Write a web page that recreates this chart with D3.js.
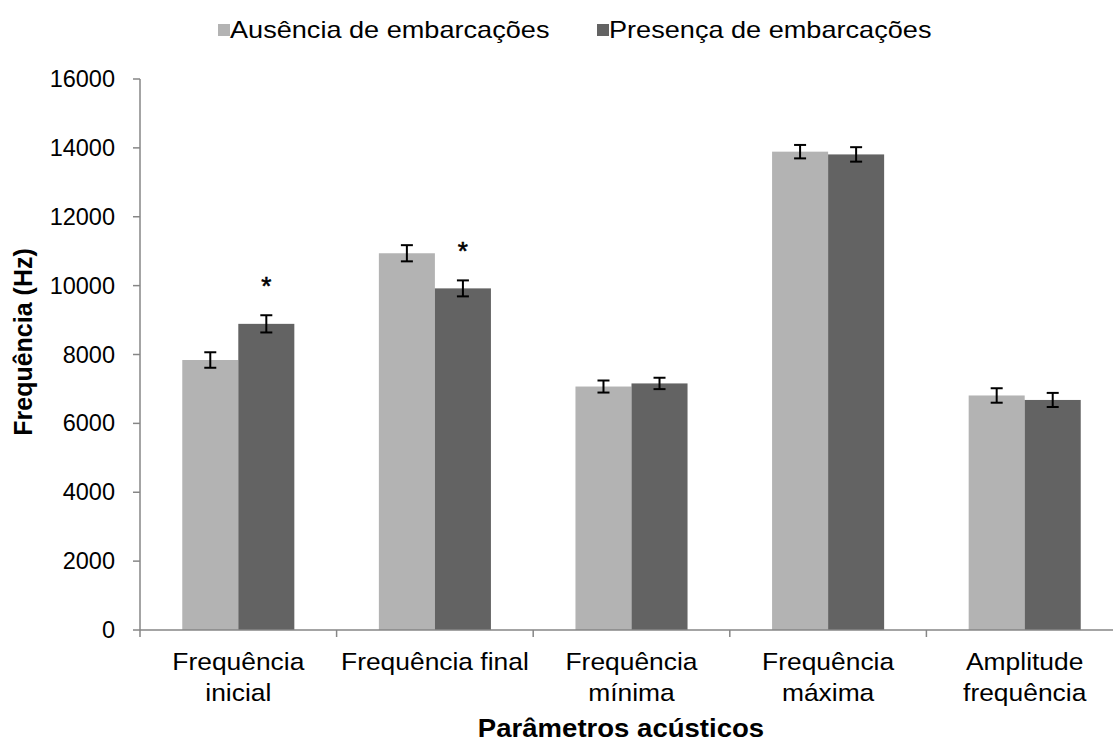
<!DOCTYPE html>
<html>
<head>
<meta charset="utf-8">
<script src="https://cdn.jsdelivr.net/npm/d3@7"></script>
<style>
  html, body { margin: 0; padding: 0; background: #fff; }
  svg { display: block; font-family: "Liberation Sans", Arial, sans-serif; }
</style>
</head>
<body>
<svg id="chart" width="1113" height="744"></svg>
<script>
// Acoustic parameters of whistles with and without boats nearby
const categories = [
  ["Frequência", "inicial"],
  ["Frequência final"],
  ["Frequência", "mínima"],
  ["Frequência", "máxima"],
  ["Amplitude", "frequência"]
];
const seriesNames = ["Ausência de embarcações", "Presença de embarcações"];
const seriesColors = ["#b3b3b3", "#636363"];
const ausencia = [7840, 10940, 7070, 13890, 6810];
const presenca = [8890, 9920, 7160, 13810, 6680];
const ausenciaErr = [225, 235, 175, 195, 210];
const presencaErr = [250, 232, 165, 210, 205];
// significant difference marks (drawn over the second series)
const significant = [true, true, false, false, false];
const yTicks = [0, 2000, 4000, 6000, 8000, 10000, 12000, 14000, 16000];

const svg = d3.select("#chart");
const plotLeft = 140, plotRight = 1123, plotTop = 79, plotBottom = 630;
const axisColor = "#868686";

// text placed at (x, y) and widened horizontally by sx
function wideText(x, y, sx, str) {
  return svg.append("text")
    .attr("transform", `translate(${x},${y}) scale(${sx},1)`)
    .attr("fill", "#000")
    .text(str);
}

const catKeys = categories.map((c, i) => i);
const x0 = d3.scaleBand().domain(catKeys).range([plotLeft, plotRight])
  .paddingInner(0.43).paddingOuter(0.215);
const x1 = d3.scaleBand().domain([0, 1]).range([0, x0.bandwidth()]);
const y = d3.scaleLinear().domain([0, 16000]).range([plotBottom, plotTop]);

const values = [ausencia, presenca];
const errs = [ausenciaErr, presencaErr];

// bars
catKeys.forEach(i => {
  [0, 1].forEach(s => {
    svg.append("rect")
      .attr("x", x0(i) + x1(s))
      .attr("y", y(values[s][i]))
      .attr("width", x1.bandwidth())
      .attr("height", y(0) - y(values[s][i]))
      .attr("fill", seriesColors[s]);
  });
});

// y axis
svg.append("line").attr("x1", plotLeft).attr("x2", plotLeft)
  .attr("y1", plotTop).attr("y2", plotBottom)
  .attr("stroke", axisColor).attr("stroke-width", 1.5);
yTicks.forEach(t => {
  svg.append("line").attr("x1", plotLeft - 7).attr("x2", plotLeft)
    .attr("y1", y(t)).attr("y2", y(t))
    .attr("stroke", axisColor).attr("stroke-width", 1.5);
  svg.append("text").attr("x", 115).attr("y", y(t))
    .attr("text-anchor", "end").attr("dominant-baseline", "central")
    .attr("font-size", 23.5).attr("fill", "#000")
    .text(t);
});

// x axis
svg.append("line").attr("x1", plotLeft).attr("x2", plotRight)
  .attr("y1", plotBottom).attr("y2", plotBottom)
  .attr("stroke", axisColor).attr("stroke-width", 1.5);
const step = x0.step();
d3.range(categories.length + 1).forEach(k => {
  const xx = plotLeft + k * step;
  svg.append("line").attr("x1", xx).attr("x2", xx)
    .attr("y1", plotBottom).attr("y2", plotBottom + 7)
    .attr("stroke", axisColor).attr("stroke-width", 1.5);
});
catKeys.forEach(i => {
  const cx = x0(i) + x0.bandwidth() / 2;
  categories[i].forEach((line, j) => {
    wideText(cx, 670 + j * 31, 1.1, line)
      .attr("text-anchor", "middle").attr("font-size", 24);
  });
});

// error bars
catKeys.forEach(i => {
  [0, 1].forEach(s => {
    const cx = x0(i) + x1(s) + x1.bandwidth() / 2;
    const hi = y(values[s][i] + errs[s][i]);
    const lo = y(values[s][i] - errs[s][i]);
    const g = svg.append("g").attr("stroke", "#000").attr("stroke-width", 2);
    g.append("line").attr("x1", cx).attr("x2", cx).attr("y1", hi).attr("y2", lo);
    g.append("line").attr("x1", cx - 6).attr("x2", cx + 6).attr("y1", hi).attr("y2", hi);
    g.append("line").attr("x1", cx - 6).attr("x2", cx + 6).attr("y1", lo).attr("y2", lo);
  });
});

// significance asterisks
catKeys.filter(i => significant[i]).forEach(i => {
  const cx = x0(i) + x1(1) + x1.bandwidth() / 2;
  svg.append("text").attr("x", cx)
    .attr("y", y(presenca[i] + presencaErr[i]) - 20)
    .attr("text-anchor", "middle").attr("font-size", 26)
    .attr("stroke", "#000").attr("stroke-width", 0.6)
    .attr("fill", "#000")
    .text("*");
});

// axis titles
svg.append("text")
  .attr("transform", `translate(32, 342) rotate(-90)`)
  .attr("text-anchor", "middle").attr("font-size", 25).attr("font-weight", "bold")
  .text("Frequência (Hz)");
wideText(621, 737, 1.06, "Parâmetros acústicos")
  .attr("text-anchor", "middle").attr("font-size", 26).attr("font-weight", "bold");

// legend
const legendX = [218, 597];
seriesNames.forEach((name, s) => {
  svg.append("rect").attr("x", legendX[s]).attr("y", 24)
    .attr("width", 12).attr("height", 12).attr("fill", seriesColors[s]);
  wideText(legendX[s] + 12, 38, 1.13, name).attr("font-size", 24);
});
</script>
</body>
</html>
